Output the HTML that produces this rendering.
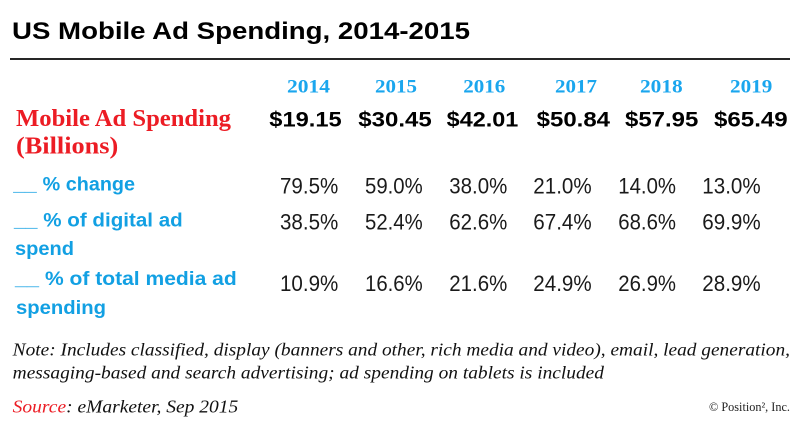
<!DOCTYPE html>
<html><head><meta charset="utf-8"><style>
html,body{margin:0;padding:0;background:#fff;}
svg{display:block;}
</style></head><body>
<svg width="800" height="427" viewBox="0 0 800 427" xmlns="http://www.w3.org/2000/svg">
<rect width="800" height="427" fill="#fff"/>
<text x="12" y="39" font-family="Liberation Sans, sans-serif" font-weight="bold" font-size="24" fill="#000" textLength="458" lengthAdjust="spacingAndGlyphs">US Mobile Ad Spending, 2014-2015</text>
<line x1="10" y1="59" x2="790" y2="59" stroke="#262626" stroke-width="2"/>

<g font-family="Liberation Serif, serif" font-weight="bold" font-size="18.5" fill="#1aa6ee">
<text x="287" y="92.7" textLength="43" lengthAdjust="spacingAndGlyphs">2014</text>
<text x="375" y="92.7" textLength="42" lengthAdjust="spacingAndGlyphs">2015</text>
<text x="463.3" y="92.7" textLength="42" lengthAdjust="spacingAndGlyphs">2016</text>
<text x="555" y="92.7" textLength="42" lengthAdjust="spacingAndGlyphs">2017</text>
<text x="640" y="92.7" textLength="42.7" lengthAdjust="spacingAndGlyphs">2018</text>
<text x="730" y="92.7" textLength="42.3" lengthAdjust="spacingAndGlyphs">2019</text>
</g>

<g font-family="Liberation Serif, serif" font-weight="bold" font-size="24" fill="#ec1c24">
<text x="16" y="126" textLength="215" lengthAdjust="spacingAndGlyphs">Mobile Ad Spending</text>
<text x="16" y="153.3" textLength="102.3" lengthAdjust="spacingAndGlyphs">(Billions)</text>
</g>

<g font-family="Liberation Sans, sans-serif" font-weight="bold" font-size="21" fill="#000">
<text x="269.3" y="126.7" textLength="72.4" lengthAdjust="spacingAndGlyphs">$19.15</text>
<text x="358.3" y="126.7" textLength="73.4" lengthAdjust="spacingAndGlyphs">$30.45</text>
<text x="446.7" y="126.7" textLength="71.6" lengthAdjust="spacingAndGlyphs">$42.01</text>
<text x="536.7" y="126.7" textLength="73.3" lengthAdjust="spacingAndGlyphs">$50.84</text>
<text x="625" y="126.7" textLength="73.3" lengthAdjust="spacingAndGlyphs">$57.95</text>
<text x="714" y="126.7" textLength="73.7" lengthAdjust="spacingAndGlyphs">$65.49</text>
</g>

<g font-family="Liberation Sans, sans-serif" font-weight="bold" font-size="19" fill="#12a0e3">
<text x="13.3" y="190.7" textLength="23.4" lengthAdjust="spacingAndGlyphs">__</text>
<text x="42.7" y="190.7" textLength="92.3" lengthAdjust="spacingAndGlyphs">% change</text>
<text x="14" y="226.7" textLength="23.4" lengthAdjust="spacingAndGlyphs">__</text>
<text x="43.3" y="226.7" textLength="139.4" lengthAdjust="spacingAndGlyphs">% of digital ad</text>
<text x="15" y="255" textLength="59" lengthAdjust="spacingAndGlyphs">spend</text>
<text x="15" y="285" textLength="24" lengthAdjust="spacingAndGlyphs">__</text>
<text x="45" y="285" textLength="191.7" lengthAdjust="spacingAndGlyphs">% of total media ad</text>
<text x="16" y="314" textLength="90" lengthAdjust="spacingAndGlyphs">spending</text>
</g>

<g font-family="Liberation Sans, sans-serif" font-size="22" fill="#1a1a1a">
<text x="280" y="193.3" textLength="58.3" lengthAdjust="spacingAndGlyphs">79.5%</text>
<text x="365" y="193.3" textLength="57.7" lengthAdjust="spacingAndGlyphs">59.0%</text>
<text x="449.3" y="193.3" textLength="58" lengthAdjust="spacingAndGlyphs">38.0%</text>
<text x="533.3" y="193.3" textLength="58.4" lengthAdjust="spacingAndGlyphs">21.0%</text>
<text x="618.3" y="193.3" textLength="57.7" lengthAdjust="spacingAndGlyphs">14.0%</text>
<text x="702.3" y="193.3" textLength="58.4" lengthAdjust="spacingAndGlyphs">13.0%</text>

<text x="280" y="229.3" textLength="58.3" lengthAdjust="spacingAndGlyphs">38.5%</text>
<text x="365" y="229.3" textLength="57.7" lengthAdjust="spacingAndGlyphs">52.4%</text>
<text x="449.3" y="229.3" textLength="58" lengthAdjust="spacingAndGlyphs">62.6%</text>
<text x="533.3" y="229.3" textLength="58.4" lengthAdjust="spacingAndGlyphs">67.4%</text>
<text x="618.3" y="229.3" textLength="57.7" lengthAdjust="spacingAndGlyphs">68.6%</text>
<text x="702.3" y="229.3" textLength="58.4" lengthAdjust="spacingAndGlyphs">69.9%</text>

<text x="280" y="291" textLength="58.3" lengthAdjust="spacingAndGlyphs">10.9%</text>
<text x="365" y="291" textLength="57.7" lengthAdjust="spacingAndGlyphs">16.6%</text>
<text x="449.3" y="291" textLength="58" lengthAdjust="spacingAndGlyphs">21.6%</text>
<text x="533.3" y="291" textLength="58.4" lengthAdjust="spacingAndGlyphs">24.9%</text>
<text x="618.3" y="291" textLength="57.7" lengthAdjust="spacingAndGlyphs">26.9%</text>
<text x="702.3" y="291" textLength="58.4" lengthAdjust="spacingAndGlyphs">28.9%</text>
</g>

<g font-family="Liberation Serif, serif" font-style="italic" font-size="17.5" fill="#111">
<text x="12.7" y="355.7" textLength="777.3" lengthAdjust="spacingAndGlyphs">Note: Includes classified, display (banners and other, rich media and video), email, lead generation,</text>
<text x="12.7" y="378.3" textLength="591.3" lengthAdjust="spacingAndGlyphs">messaging-based and search advertising; ad spending on tablets is included</text>
<text x="12.7" y="412.3" textLength="225.6" lengthAdjust="spacingAndGlyphs"><tspan fill="#ec1c24">Source</tspan>: eMarketer, Sep 2015</text>
</g>
<text x="709" y="411" font-family="Liberation Serif, serif" font-size="12.5" fill="#222" textLength="81" lengthAdjust="spacingAndGlyphs">© Position², Inc.</text>
</svg>
</body></html>
